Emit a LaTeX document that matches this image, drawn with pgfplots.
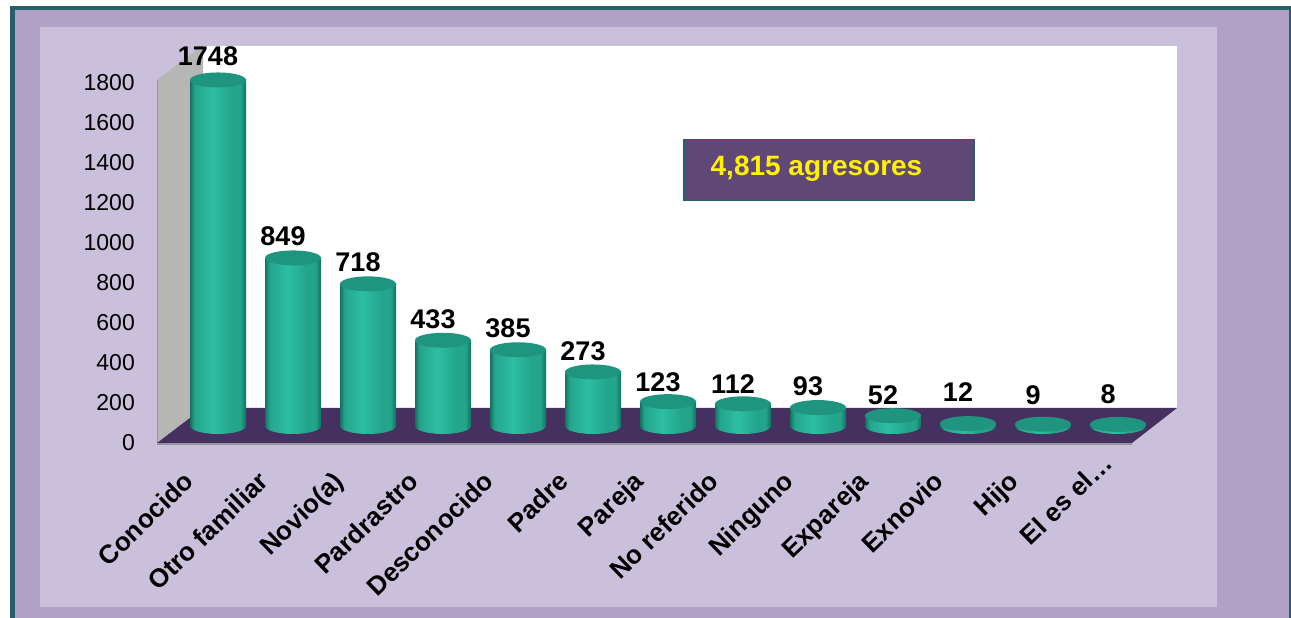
\documentclass[border=0pt]{standalone}
\usepackage{pgfplots}
\usepackage{pgfplotstable}
\pgfplotsset{compat=1.18}
\usepackage{fontspec}
\setmainfont{Liberation Sans}

\definecolor{frame}{HTML}{265E6C}
\definecolor{outerbg}{HTML}{B1A1C7}
\definecolor{innerbg}{HTML}{CAC0DC}
\definecolor{wall}{HTML}{B6B6B4}
\definecolor{floorc}{HTML}{45305F}
\definecolor{boxc}{HTML}{5F4878}
\definecolor{cyldark}{HTML}{15705F}
\definecolor{cylmid}{HTML}{23A58C}
\definecolor{cyllight}{HTML}{2DBFA2}
\definecolor{cyltop}{HTML}{1F957F}

\pgfdeclarehorizontalshading{cyl}{100bp}{color(0bp)=(cyldark); color(25bp)=(cyldark);
  color(29bp)=(cylmid); color(45bp)=(cyllight); color(62bp)=(cylmid); color(70bp)=(cylmid);
  color(75bp)=(cyldark); color(100bp)=(cyldark)}

% bottom and top of the cylinders
\pgfdeclareplotmark{cylbase}{%
  \path[draw=none, shading=cyl, rotate=4]
    (0pt,0pt) ellipse [x radius=28pt, y radius=8pt];}
\pgfdeclareplotmark{cyltop}{%
  \path[draw=none, fill=cyltop, rotate=4]
    (0pt,0pt) ellipse [x radius=28pt, y radius=7.5pt];}

\pgfplotstableread{
x  val   dy  base
0  1748  4   0
1  849   2   0
2  718   2   0
3  433   1   0
4  385   2   0
5  273   1   0
6  123   0   0
7  112   0   0
8  93    2   0
9  52    1   0
10 12    12  0
11 9     9   0
12 8     10  0
}\agresores

\begin{document}
\begin{tikzpicture}
% page, frame and panels (pixel positions of the picture, y downwards)
\begin{scope}[x=1pt, y=-1pt, shift={(0pt,618pt)}]
\path[use as bounding box, fill=white] (0,0) rectangle (1291,618);
\fill[frame] (10,6) rectangle (1291,618);
\fill[outerbg] (15,10) rectangle (1289,618);
\fill[innerbg] (40,27) rectangle (1217,607);
\fill[white] (203,46) rectangle (1177,408);
% walls of the 3D box
\fill[wall] (157,80) -- (203,45) -- (203,408) -- (157,443) -- cycle;
\draw[gray!80, line width=1pt] (157,80) -- (157,443);
\fill[floorc] (157,443) -- (203,408) -- (1177,408) -- (1132,443) -- cycle;
\draw[gray!70!innerbg, line width=2pt] (157,444) -- (1132,444);
\end{scope}

% value axis, at the front of the box
\begin{axis}[
    at={(157pt,175pt)}, anchor=origin,
    scale only axis, width=1020pt, height=360pt,
    xmin=0, xmax=1, ymin=0, ymax=1800,
    ytick={0,200,...,1800},
    xtick=\empty,
    axis line style={draw=none},
    major tick style={draw=none},
    /pgf/number format/assume math mode=true,
    /pgf/number format/1000 sep={},
    yticklabel style={font=\fontsize{23}{25}\selectfont, anchor=east, inner sep=0pt, xshift=-22pt},
]
\end{axis}

% cylinders, in the middle of the box's depth
\begin{axis}[
    at={(218pt,192pt)}, anchor=origin,
    scale only axis, width=1020pt, height=350pt,
    xmin=-0.8, xmax=12.8, ymin=0, ymax=1768,
    clip=false,
    axis line style={draw=none},
    major tick style={draw=none},
    ytick=\empty,
    xtick={0,...,12},
    xticklabels={Conocido,Otro familiar,Novio(a),Pardrastro,Desconocido,Padre,Pareja,No referido,Ninguno,Expareja,Exnovio,Hijo,{El es el\dots\kern-26pt}},
    xticklabel style={font=\fontsize{26}{28}\bfseries, xshift=-36pt, yshift=-44pt, rotate=44, anchor=north east, inner sep=0pt},
]
\addplot[only marks, mark=cylbase, mark options={draw=none}] table[x=x, y=base] {\agresores};
% one plot per bar, so that each cylinder has its own shading
\pgfplotsinvokeforeach{0,...,12}{
\addplot[ybar, bar width=56pt, bar shift=0pt, draw=none, shading=cyl,
    restrict x to domain=#1:#1,
    visualization depends on={\thisrow{dy} \as \dy},
    nodes near coords,
    nodes near coords style={font=\fontsize{27}{29}\bfseries, color=black, anchor=south,
        inner sep=0pt, xshift=-10pt, yshift=\dy pt+10pt,
        /pgf/number format/assume math mode=true, /pgf/number format/1000 sep={}},
] table[x=x, y=val] {\agresores};
}
\addplot[only marks, mark=cyltop, mark options={draw=none}] table[x=x, y=val] {\agresores};
\end{axis}

\begin{scope}[x=1pt, y=-1pt, shift={(0pt,618pt)}]
\node[draw=frame, line width=1.5pt, fill=boxc, minimum width=290pt, minimum height=61pt, inner sep=0pt,
      anchor=north west] at (683,139) {};
\node[text=yellow, font=\fontsize{28}{30}\bfseries, anchor=center] at (816.5,169) {4,815 agresores};
\end{scope}
\end{tikzpicture}
\end{document}
